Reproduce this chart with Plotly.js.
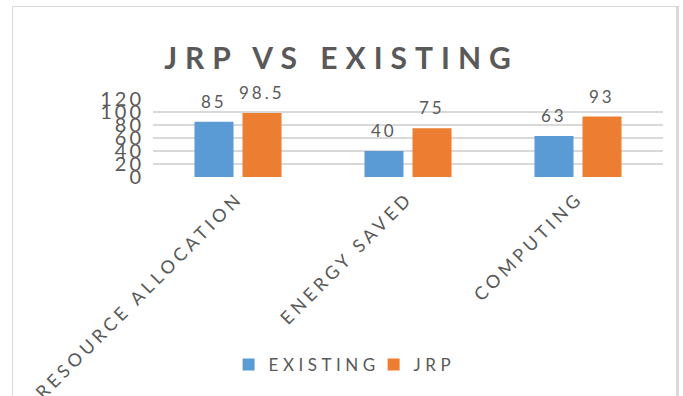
<!DOCTYPE html>
<html>
<head>
<meta charset="utf-8">
<script src="https://cdn.plot.ly/plotly-3.0.1.min.js"></script>
<style>
  html, body { margin: 0; padding: 0; background: #ffffff; }
  #wrap { position: relative; width: 683px; height: 396px; overflow: hidden; }
  #chart { position: absolute; left: 0; top: 0; width: 683px; height: 396px; }
  #frame { position: absolute; left: 12px; top: 6px; width: 663px; height: 400px;
           border-left: 1.5px solid #d9d9d9; border-top: 1.5px solid #d9d9d9;
           border-right: 3px solid #d9d9d9; pointer-events: none; }
  #chart .xtick text { letter-spacing: 4px; }
  #chart .ytick text { letter-spacing: 3px; }
  #chart .legendtext { letter-spacing: 4.5px; }
  #chart .annotation-text { letter-spacing: 3px; }
  #chart .gtitle { letter-spacing: 8px; }
</style>
</head>
<body>
<div id="wrap">
  <div id="chart"></div>
  <div id="frame"></div>
</div>
<script>
const categories = ["RESOURCE ALLOCATION", "ENERGY SAVED", "COMPUTING"];
const existingValues = [85, 40, 63];
const jrpValues = [98.5, 75, 93];
const seriesNames = ["EXISTING", "JRP"];
const yTickValues = [0, 20, 40, 60, 80, 100, 120];

const FONT = "Lato, 'Open Sans', sans-serif";
const TEXT = "#595959";

const traces = [
  { type: "bar", name: seriesNames[0], x: categories, y: existingValues,
    marker: { color: "#5B9BD5" }, hoverinfo: "x+y" },
  { type: "bar", name: seriesNames[1], x: categories, y: jrpValues,
    marker: { color: "#ED7D31" }, hoverinfo: "x+y" }
];

const annotations = [];
[existingValues, jrpValues].forEach((vals, s) => {
  vals.forEach((v, i) => {
    annotations.push({
      x: categories[i], y: v, xref: "x", yref: "y",
      text: String(v), showarrow: false,
      xanchor: "center", yanchor: "bottom",
      xshift: s === 0 ? -24 : 24, yshift: 8,
      font: { family: FONT, size: 17, color: TEXT }
    });
  });
});

const layout = {
  width: 683, height: 396,
  margin: { l: 153, r: 20, t: 99, b: 219.3, pad: 0 },
  paper_bgcolor: "#ffffff", plot_bgcolor: "#ffffff",
  font: { family: FONT, color: TEXT },
  title: {
    text: "<b>JRP VS EXISTING</b>",
    font: { family: FONT, size: 30, color: TEXT },
    xref: "container", x: 0.5, xanchor: "center",
    yref: "container", y: 1 - 58 / 396, yanchor: "middle"
  },
  barmode: "group",
  bargap: 0.435,
  bargroupgap: 0.1875,
  xaxis: {
    type: "category",
    tickangle: -45,
    tickfont: { family: FONT, size: 18, color: TEXT },
    showgrid: false, zeroline: false, showline: false,
    ticks: "", ticklabelstandoff: 6, automargin: false
  },
  yaxis: {
    range: [0, 120],
    tickvals: yTickValues,
    ticktext: yTickValues.map(String),
    tickfont: { family: FONT, size: 20, color: TEXT },
    showgrid: true, gridcolor: "#d9d9d9", gridwidth: 1.5,
    zeroline: false, showline: false, ticks: "", ticklabelstandoff: 8,
    automargin: false
  },
  showlegend: true,
  legend: {
    orientation: "h", x: 0.547, xref: "container", xanchor: "center",
    y: 1 - 365 / 396, yref: "container", yanchor: "middle",
    font: { family: FONT, size: 17, color: TEXT },
    traceorder: "normal", itemwidth: 30, entrywidth: 100
  },
  annotations: annotations
};

Plotly.newPlot("chart", traces, layout, { displayModeBar: false, staticPlot: true });
</script>
</body>
</html>
